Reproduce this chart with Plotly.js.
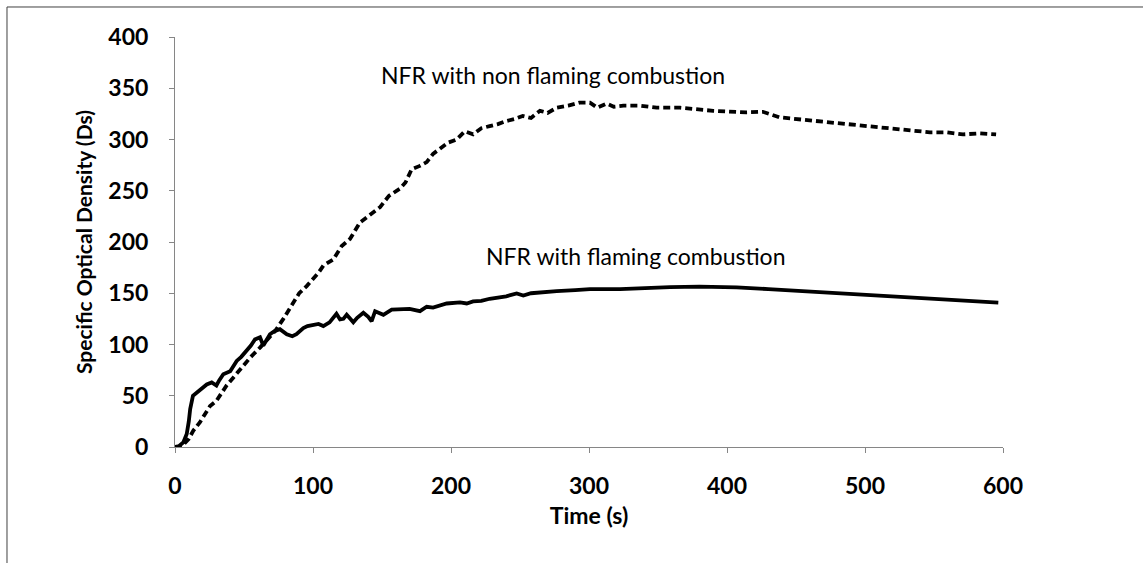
<!DOCTYPE html>
<html>
<head>
<meta charset="utf-8">
<script src="https://cdn.plot.ly/plotly-3.0.1.min.js"></script>
<style>
html,body{margin:0;padding:0;background:#fff;}
#chart{width:1143px;height:563px;}
</style>
</head>
<body>
<div id="chart"></div>
<script>
// Flaming combustion (solid line)
const flamingTime = [0, 3, 6, 8.5, 10, 11, 13, 15.7, 18, 20.5, 23, 26.6, 30, 32, 35, 40, 44.7, 48, 52, 55, 58, 61.6, 64, 68.8, 72, 76, 81, 85, 88, 93, 96, 100, 104, 107.5, 112, 117, 119.6, 122, 124.4, 127, 129.2, 132, 136.5, 140, 142.5, 145, 151, 157, 165, 170, 177.5, 182.4, 187, 192, 196.9, 206.5, 211.4, 216, 222, 228, 234, 240, 247.6, 252.4, 258, 264.5, 276.6, 290, 300.7, 322.5, 337, 358.7, 380, 407, 430, 448, 470, 491.5, 515, 540, 570, 596.6];
const flamingDs = [0, 1, 4.5, 12.7, 25, 37, 50, 53, 56, 58, 61, 63, 60, 65, 71, 74, 84, 88, 94, 99, 105, 107, 99, 110, 113, 115, 110, 108, 110, 116, 118, 119, 120, 118, 121.6, 130, 124.4, 125, 129, 125, 121.6, 126, 131, 127, 122.7, 132.5, 129, 134, 134.5, 134.8, 132.5, 136.8, 136, 138, 140, 141, 140, 142, 142.5, 144.6, 145.5, 147, 149.8, 147.8, 150, 151, 152, 153, 154, 154, 155, 156, 156.4, 155.8, 154, 152.6, 151, 149.3, 147.5, 146, 143.5, 140.8];

// Non flaming combustion (dashed line)
const nonFlamingTime = [0, 5, 7.2, 10, 13.3, 18, 25.4, 30, 37.4, 43, 49.5, 55, 61.6, 67, 72.5, 78.5, 85.7, 90, 95.4, 100, 104, 107.5, 114.7, 120.8, 126.8, 134, 141, 148.6, 155, 163, 167, 171.5, 177, 182.4, 187, 192, 198, 204, 210, 216, 222, 228, 234, 240, 246, 252, 258, 264.5, 270, 276.6, 285, 293, 300.7, 306, 312.8, 318, 324.9, 337, 349, 366, 373, 390, 414, 426, 438, 450, 462.5, 475, 486.7, 498, 510.9, 523, 535, 547, 559, 571, 583, 595];
const nonFlamingDs = [0, 0, 4, 8, 16, 24, 40, 45, 60, 69, 78, 88, 97, 105, 113, 125, 141, 150, 157, 164, 170, 177, 183, 196, 203, 219, 226, 234, 245, 252, 258, 271, 274, 278, 286, 291, 297, 300, 308, 305, 311, 313, 315, 318, 320, 323, 321, 328, 326, 331, 333, 336, 336, 331, 335, 332, 333, 333, 331, 331, 330, 328, 326.5, 327, 321.6, 320, 318, 316, 315, 313, 311.9, 310, 308.6, 307, 307, 305, 306, 305];

const xTicks = [0, 100, 200, 300, 400, 500, 600];
const yTicks = [0, 50, 100, 150, 200, 250, 300, 350, 400];

const labelNonFlaming = "NFR with non flaming combustion";
const labelFlaming = "NFR with flaming combustion";
const xTitle = "Time (s)";
const yTitle = "Specific Optical Density (Ds)";

const FONT = "Lato, 'Open Sans', sans-serif";

const traces = [
  {
    x: nonFlamingTime, y: nonFlamingDs, type: 'scatter', mode: 'lines',
    name: labelNonFlaming,
    line: {color: '#000000', width: 3.8, dash: '7px,4px'}
  },
  {
    x: flamingTime, y: flamingDs, type: 'scatter', mode: 'lines',
    name: labelFlaming,
    line: {color: '#000000', width: 3.8}
  }
];

const axisCommon = {
  showline: true, linecolor: '#868686', linewidth: 1,
  ticks: 'outside', ticklen: 5, tickcolor: '#868686', tickwidth: 1,
  showgrid: false, zeroline: false,
  tickfont: {family: FONT, size: 23, color: '#000', weight: 'bold'}
};

const layout = {
  width: 1143, height: 563,
  margin: {l: 175, r: 140, t: 37, b: 116},
  paper_bgcolor: '#ffffff', plot_bgcolor: '#ffffff',
  showlegend: false,
  xaxis: Object.assign({}, axisCommon, {
    range: [0, 600], tickvals: xTicks, ticktext: xTicks.map(String),
    ticklabelstandoff: 13,
    title: {text: xTitle, font: {family: FONT, size: 23, color: '#000', weight: 'bold'}, standoff: 10}
  }),
  yaxis: Object.assign({}, axisCommon, {
    range: [0, 400], tickvals: yTicks, ticktext: yTicks.map(String),
    ticklabelstandoff: 16,
    title: {text: yTitle, font: {family: FONT, size: 21, color: '#000', weight: 'bold'}, standoff: 10}
  }),
  annotations: [
    {x: 274, y: 363, xref: 'x', yref: 'y', text: labelNonFlaming, showarrow: false,
     font: {family: FONT, size: 23, color: '#000'}},
    {x: 334, y: 186, xref: 'x', yref: 'y', text: labelFlaming, showarrow: false,
     font: {family: FONT, size: 23, color: '#000'}}
  ],
  shapes: [
    {type: 'line', xref: 'paper', yref: 'paper', x0: -0.2029, x1: 1.19, y0: 1.0732, y1: 1.0732,
     line: {color: '#404040', width: 1}},
    {type: 'line', xref: 'paper', yref: 'paper', x0: -0.2029, x1: -0.2029, y0: 1.0732, y1: -0.32,
     line: {color: '#404040', width: 1}}
  ]
};

Plotly.newPlot('chart', traces, layout, {displayModeBar: false, staticPlot: true});
</script>
</body>
</html>
